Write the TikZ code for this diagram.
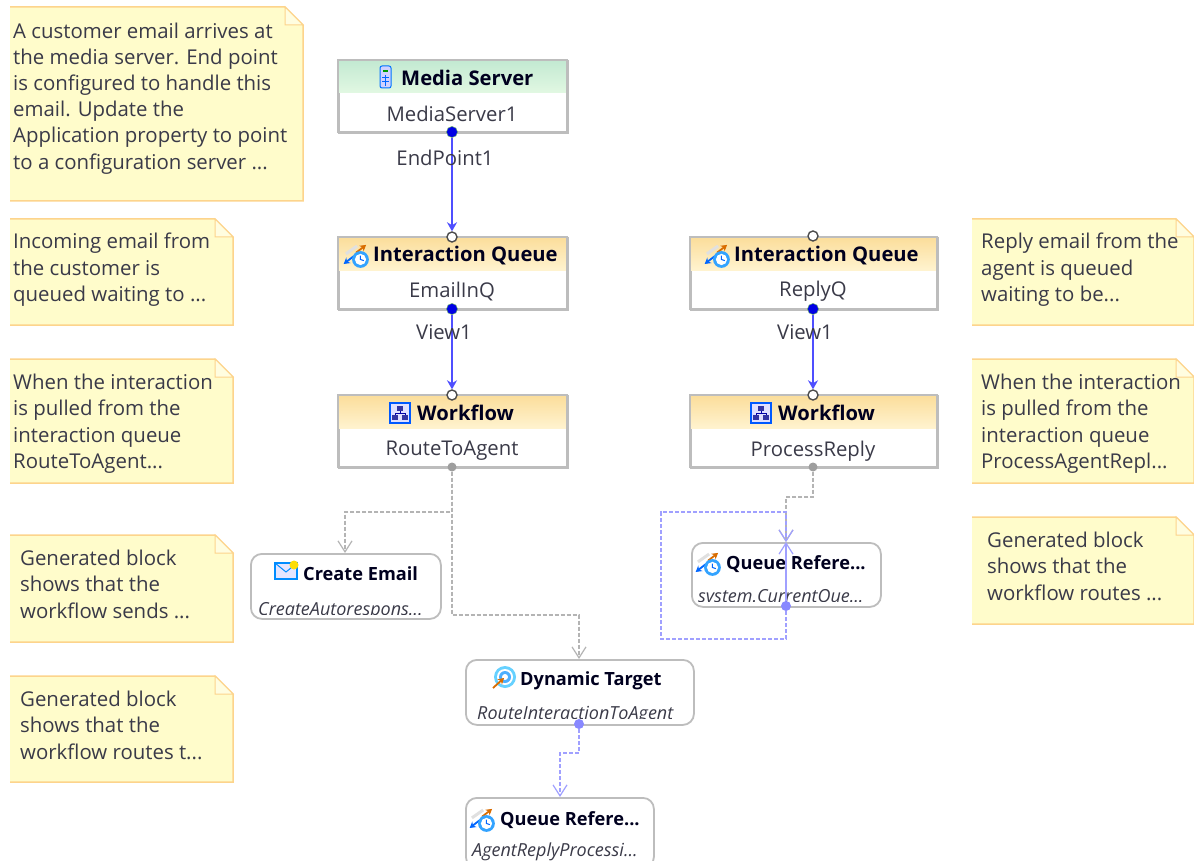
\documentclass[tikz,border=0pt]{standalone}
\usepackage{fontspec}
\setmainfont{Open Sans}
\usetikzlibrary{arrows.meta,calc}
\definecolor{notefill}{HTML}{FFFCCB}
\definecolor{noteedge}{HTML}{FDD48C}
\definecolor{boxedge}{HTML}{BDBDBD}
\definecolor{txt}{HTML}{3A3A48}
\definecolor{solidblue}{HTML}{4F4FFF}
\definecolor{paleblue}{HTML}{A0A0FF}
\definecolor{dashgray}{HTML}{B4B4B4}
\definecolor{greentop}{HTML}{C2E9D2}
\definecolor{greenbot}{HTML}{E2F8E2}
\definecolor{orangetop}{HTML}{FBDD9A}
\definecolor{orangebot}{HTML}{FFF3CF}
\tikzset{
  x=1pt,y=-1pt,
  notetext/.style={anchor=north west,align=left,inner sep=0pt,text=txt,font=\fontsize{20.4}{26.2}\selectfont},
  boxshape/.style={draw=boxedge,line width=1.8pt,fill=white,inner sep=0pt,anchor=north west},
  roundshape/.style={boxshape,rounded corners=11pt},
  headtxt/.style={font=\fontsize{20.2}{22}\selectfont\bfseries,text=black!88!blue,inner sep=0pt},
  smallhead/.style={headtxt,font=\fontsize{18.2}{20}\selectfont\bfseries},
  subtxt/.style={font=\fontsize{20.3}{22}\selectfont,text=txt,inner sep=0pt},
  itatxt/.style={font=\fontsize{18}{20}\selectfont\itshape,text=txt,inner sep=0pt},
  linklabel/.style={font=\fontsize{20.3}{22}\selectfont,text=txt,inner sep=0pt},
  bluedot/.style={circle,fill=blue!90!black,draw=green!45!black!60,line width=.5pt,minimum size=11pt,inner sep=0pt},
  opendot/.style={circle,fill=white,draw=black!70,line width=1.4pt,minimum size=10pt,inner sep=0pt},
  graydot/.style={circle,fill=black!38,minimum size=9pt,inner sep=0pt},
  paledot/.style={circle,fill=paleblue!85!blue,minimum size=10pt,inner sep=0pt},
  solidlink/.style={draw=solidblue,line width=2.2pt,-{Stealth[length=9pt,width=10pt]}},
  graylink/.style={draw=dashgray,line width=2pt,dash pattern=on 4pt off 2pt,-{Straight Barb[length=11pt,width=14pt,line width=1.2pt]}},
  palelink/.style={draw=paleblue,line width=2pt,dash pattern=on 4pt off 2pt,-{Straight Barb[length=11pt,width=14pt,line width=1.2pt]}},
  palesolid/.style={draw=paleblue,line width=2.2pt,-{Straight Barb[length=11pt,width=14pt,line width=1.2pt]}},
}
\newcommand{\notepoly}[5]{% name x1 y1 x2 y2
  \fill[notefill] (#2,#3) -- (#4-18,#3) -- (#4,#3+18) -- (#4,#5) -- (#2,#5) -- cycle;
  \draw[draw=noteedge,line width=1.5pt] (#2,#3) -- (#4-18,#3) -- (#4,#3+18) -- (#4,#5) -- (#2,#5);
  \draw[draw=noteedge,line width=1pt,fill=notefill!60!white] (#4-18,#3) -- (#4-18,#3+18) -- (#4,#3+18) -- cycle;
  \coordinate (#1) at (#2,#3);
}
\newcommand{\squarebox}[7]{% name x1 y1 x2 y2 top bottom
  \node[boxshape,minimum width=#4-#2,minimum height=#5-#3] (#1) at (#2,#3) {};
  \shade[top color=#6,bottom color=#7] (#2,#3) rectangle (#4,#3+33);
  \draw[draw=boxedge,line width=1.8pt] (#2,#3) rectangle (#4,#5);
}
\newcommand{\queueicon}[2]{% x y centre
  \begin{scope}[shift={(#1,#2)},scale=1.12]
    \draw[black!12,line width=3pt] (-9,-1) -- (1,-8);
    \draw[orange!85!black,line width=1.8pt,-{Stealth[length=6pt,width=7pt]}] (0,-2) -- (9,-9);
    \draw[blue!60!cyan,line width=1.8pt,{Stealth[length=6pt,width=7pt]}-] (-11,8) -- (-2,1);
    \fill[blue!45!cyan!80!white] (4,4) circle (7.5pt);
    \fill[white] (4,4) circle (5pt);
    \draw[blue!60!cyan,line width=1pt] (4,0.5) -- (4,4) -- (7,5);
  \end{scope}
}
\newcommand{\workflowicon}[2]{%
  \begin{scope}[shift={(#1,#2)}]
    \draw[blue!65!cyan,fill=blue!12!white,line width=1.2pt] (-10,-10) rectangle (10,10);
    \fill[blue!55!black!80!white] (-3,-7) rectangle (3,-2);
    \fill[blue!55!black!80!white] (-8,2) rectangle (-2,7);
    \fill[blue!55!black!80!white] (2,2) rectangle (8,7);
    \draw[blue!65!black,line width=.8pt] (0,-2) -- (0,0) (-5,2) -- (-5,0) -- (5,0) -- (5,2);
  \end{scope}
}
\begin{document}
\begin{tikzpicture}
\useasboundingbox (0,0) rectangle (1194,861);
\fill[white] (0,0) rectangle (1194,861);

% ---- notes
\notepoly{n1}{10}{7}{303}{201}
\notepoly{n2}{10}{219}{233}{325}
\notepoly{n3}{10}{359}{233}{483}
\notepoly{n4}{10}{535}{233}{642}
\notepoly{n5}{10}{676}{233}{782}
\notepoly{n6}{972}{219}{1194}{325}
\notepoly{n7}{972}{359}{1194}{483}
\notepoly{n8}{972}{517}{1194}{624}
\node[notetext] (t1) at (13,22.5) {A customer email arrives at\\the media server. End point\\is configured to handle this\\email. Update the\\Application property to point\\to a configuration server ...};
\node[notetext] (t2) at (13,233) {Incoming email from\\the customer is\\queued waiting to ...};
\node[notetext] (t3) at (13,374) {When the interaction\\is pulled from the\\interaction queue\\RouteToAgent...};
\node[notetext] (t4) at (20,550) {Generated block\\shows that the\\workflow sends ...};
\node[notetext] (t5) at (20,691) {Generated block\\shows that the\\workflow routes t...};
\node[notetext] (t6) at (981,233) {Reply email from the\\agent is queued\\waiting to be...};
\node[notetext] (t7) at (981,374) {When the interaction\\is pulled from the\\interaction queue\\ProcessAgentRepl...};
\node[notetext] (t8) at (987,532) {Generated block\\shows that the\\workflow routes ...};

% ---- square boxes
\squarebox{ms}{338}{60}{567}{132}{greentop}{greenbot}
\squarebox{eq}{338}{237}{567}{309}{orangetop}{orangebot}
\squarebox{rq}{690}{237}{937}{309}{orangetop}{orangebot}
\squarebox{wa}{338}{395}{567}{467}{orangetop}{orangebot}
\squarebox{wb}{690}{395}{937}{467}{orangetop}{orangebot}

\node[headtxt,anchor=west] (msh) at (401,78) {Media Server};
\node[subtxt] (mss) at (452,114) {MediaServer1};
\node[headtxt,anchor=west] (eqh) at (373,256) {Interaction Queue};
\node[subtxt] (eqs) at (452,291.5) {EmailInQ};
\node[headtxt,anchor=west] (rqh) at (734,256) {Interaction Queue};
\node[subtxt] (rqs) at (813,291.5) {ReplyQ};
\node[headtxt,anchor=west] (wah) at (417,413) {Workflow};
\node[subtxt] (was) at (452,451) {RouteToAgent};
\node[headtxt,anchor=west] (wbh) at (778,413) {Workflow};
\node[subtxt] (wbs) at (813,451) {ProcessReply};

% media server icon
\draw[blue!55!cyan,fill=blue!18!white,line width=1pt,rounded corners=2pt] (380,66) rectangle (391,88);
\fill[green!60!black] (383,70) rectangle (388,72);
\draw[blue!60!cyan,line width=.8pt] (382,77) -- (389,77) (382,81) -- (389,81) (385.5,75) -- (385.5,86);
\queueicon{356}{255}
\queueicon{717}{255}
\workflowicon{400}{413}
\workflowicon{761}{413}

% ---- rounded boxes
\node[roundshape,minimum width=190pt,minimum height=65pt] (ce) at (250,553) {};
\node[roundshape,minimum width=228pt,minimum height=65pt] (dt) at (465,659) {};
\node[roundshape,minimum width=188pt,minimum height=70pt] (qb) at (465,797) {};
\node[roundshape,minimum width=189pt,minimum height=64pt] (qr) at (691,542) {};

\node[smallhead,anchor=west] (ceh) at (303,574) {Create Email};
\node[smallhead,anchor=west] (dth) at (520,681) {Dynamic Target};
\node[smallhead,anchor=west] (qbh) at (500,820) {Queue Refere...};
\node[smallhead,anchor=west] (qrh) at (726,564) {Queue Refere...};

\begin{scope}
  \clip (250,590) rectangle (440,614);
  \node[itatxt,anchor=base west] (ces) at (258,615) {CreateAutorespons...};
\end{scope}
\begin{scope}
  \clip (465,695) rectangle (693,718.5);
  \node[itatxt,anchor=base west] (dts) at (477,719.5) {RouteInteractionToAgent};
\end{scope}
\begin{scope}
  \clip (465,830) rectangle (653,861);
  \node[itatxt,anchor=base west] (qbs) at (472,856) {AgentReplyProcessi...};
\end{scope}
\begin{scope}
  \clip (691,580) rectangle (880,601);
  \node[itatxt,anchor=base west] (qrs) at (698,602) {system.CurrentQue...};
\end{scope}

% icons of the rounded boxes
\draw[blue!45!cyan,fill=blue!10!white,line width=1.2pt] (275,563) rectangle (297,579);
\draw[blue!45!cyan,line width=1pt] (275,563) -- (286,572) -- (297,563);
\fill[yellow!80!orange] (294,565) circle (4.5pt);
\foreach \r/\c in {11/blue!30!cyan!60!white,8/white,6/blue!45!cyan!70!white,3/white}
  \fill[\c] (505,677) circle (\r pt);
\draw[orange!85!black,line width=1.8pt,-{Stealth[length=6pt,width=7pt]}] (493,688) -- (504,678);
\queueicon{482}{819}
\queueicon{708}{563}

% ---- ports
\node[bluedot] (p1) at (452,132) {};
\node[opendot] (p2) at (452,237) {};
\node[bluedot] (p3) at (452,309) {};
\node[opendot] (p4) at (452,395) {};
\node[opendot] (p5) at (813,236) {};
\node[bluedot] (p6) at (813,309) {};
\node[opendot] (p7) at (813,395) {};
\node[graydot] (p8) at (452,467) {};
\node[graydot] (p9) at (813,467) {};
\node[paledot] (p10) at (786,606) {};
\node[paledot] (p11) at (579,724) {};

% ---- connectors
\draw[solidlink] (p1) -- (p2.north);
\draw[solidlink] (p3) -- (p4.north);
\draw[solidlink] (p6) -- (p7.north);

\coordinate (j1) at (452,512);
\coordinate (j2) at (345,512);
\coordinate (j3) at (452,615);
\coordinate (j4) at (579,615);
\coordinate (j5) at (813,497);
\coordinate (j6) at (786,497);
\coordinate (j7) at (579,753);
\coordinate (j8) at (560,753);
\coordinate (j9) at (786,639);
\coordinate (j10) at (661,639);
\coordinate (j11) at (661,512);
\coordinate (j12) at (786,512);
\coordinate (qrin) at (786,542);

\draw[graylink] (p8) -- (j1) -- (j2) -- (ce.north -| j2);
\draw[graylink] (p8) -- (j3) -- (j4) -- (dt.north -| j4);
\draw[graylink] (p9) -- (j5) -- (j6) -- (qrin);
\draw[palelink] (p10) -- (j9) -- (j10) -- (j11) -- (j12) -- (qrin);
\draw[palesolid] (p10) -- (qrin);
\draw[palelink] (p11) -- (j7) -- (j8) -- (qb.north -| j8);

\node[linklabel] (l1) at (445,158) {EndPoint1};
\node[linklabel] (l2) at (444,332) {View1};
\node[linklabel] (l3) at (805,332) {View1};
\end{tikzpicture}
\end{document}
